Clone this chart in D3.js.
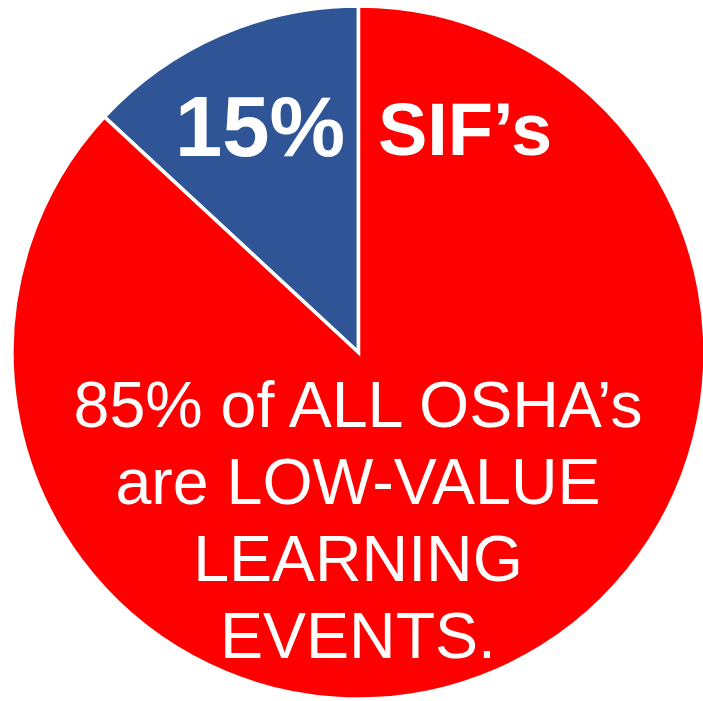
<!DOCTYPE html>
<html>
<head>
<meta charset="utf-8">
<script src="https://cdn.jsdelivr.net/npm/d3@7"></script>
<style>
  html, body { margin: 0; padding: 0; background: #fff; overflow: hidden; }
  svg text { font-family: "Liberation Sans", Arial, sans-serif; fill: #fff; }
</style>
</head>
<body>
<div id="chart"></div>
<script>
// slice values (labels say 15 / 85)
const categories = ["SIF", "Other OSHA"];
const values = [13.1, 86.9];
const colors = ["#2F5597", "#FF0000"];
const topLabels = ["15%", "SIF\u2019s"];
const bodyLines = ["85% of ALL OSHA\u2019s", "are LOW-VALUE", "LEARNING", "EVENTS."];

let width = 703;
let height = 701;
let cx = 358.5, cy = 352.5, radius = 346.5;

let svg = d3.select("#chart")
    .append("svg")
    .attr("width", width)
    .attr("height", height)
    .attr("viewBox", [0, 0, width, height]);

let pie = d3.pie().sort(null).value(d => d)
    .startAngle(0).endAngle(-2 * Math.PI);

let arc = d3.arc().innerRadius(0).outerRadius(radius);

let g = svg.append("g")
    .attr("transform", "translate(" + cx + "," + cy + ")");

g.selectAll("path")
    .data(pie(values))
    .enter().append("path")
    .attr("d", arc)
    .attr("fill", (d, i) => colors[i])
    .attr("stroke", "#fff")
    .attr("stroke-width", 3.5)
    .attr("stroke-linejoin", "miter");

// big bold labels across the top
svg.append("text")
    .attr("x", 260).attr("y", 156)
    .attr("text-anchor", "middle")
    .attr("font-size", "85px")
    .attr("font-weight", "bold")
    .text(topLabels[0]);

svg.append("text")
    .attr("x", 465).attr("y", 155)
    .attr("text-anchor", "middle")
    .attr("font-size", "74px")
    .attr("font-weight", "bold")
    .text(topLabels[1]);

svg.selectAll(".body")
    .data(bodyLines)
    .enter().append("text")
    .attr("class", "body")
    .attr("x", 358)
    .attr("y", (d, i) => 427 + i * 77)
    .attr("text-anchor", "middle")
    .attr("font-size", "64.5px")
    .text(d => d);
</script>
</body>
</html>
